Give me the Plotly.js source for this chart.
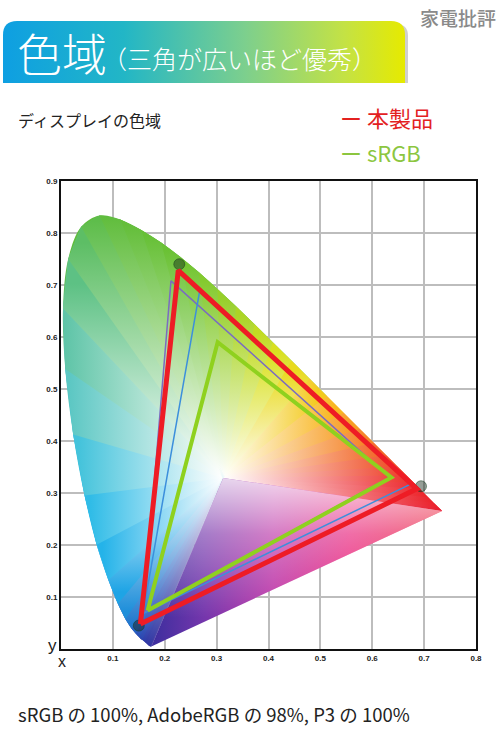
<!DOCTYPE html>
<html>
<head>
<meta charset="utf-8">
<script src="https://cdn.plot.ly/plotly-3.0.1.min.js"></script>
<style>
  html, body { margin: 0; padding: 0; background: #fff; }
  #chart { width: 500px; height: 732px; }
</style>
</head>
<body>
<div id="chart"></div>
<script>
// CIE 1931 spectral locus (wavelength nm, x, y)
const wavelengths = [380, 390, 400, 410, 420, 430, 440, 445, 450, 455, 460, 465, 470, 475, 480, 485, 490, 495,
  500, 505, 510, 515, 520, 525, 530, 535, 540, 545, 550, 555, 560, 565, 570, 575, 580, 585, 590, 595,
  600, 605, 610, 615, 620, 630, 640, 650, 660, 680, 700];
const locusX = [0.1741, 0.1738, 0.1733, 0.1726, 0.1714, 0.1689, 0.1644, 0.1611, 0.1566, 0.1510, 0.1440, 0.1355, 0.1241, 0.1096, 0.0913, 0.0687, 0.0454, 0.0235,
  0.0082, 0.0039, 0.0139, 0.0389, 0.0743, 0.1142, 0.1547, 0.1929, 0.2296, 0.2658, 0.3016, 0.3373, 0.3731, 0.4087, 0.4441, 0.4788, 0.5125, 0.5448, 0.5752, 0.6029,
  0.6270, 0.6482, 0.6658, 0.6801, 0.6915, 0.7079, 0.7190, 0.7260, 0.7300, 0.7334, 0.7347];
const locusY = [0.0050, 0.0049, 0.0048, 0.0048, 0.0051, 0.0069, 0.0109, 0.0138, 0.0177, 0.0227, 0.0297, 0.0399, 0.0578, 0.0868, 0.1327, 0.2007, 0.2950, 0.4127,
  0.5384, 0.6548, 0.7502, 0.8120, 0.8338, 0.8262, 0.8059, 0.7816, 0.7543, 0.7243, 0.6923, 0.6589, 0.6245, 0.5896, 0.5547, 0.5202, 0.4866, 0.4544, 0.4242, 0.3965,
  0.3725, 0.3514, 0.3340, 0.3197, 0.3083, 0.2920, 0.2809, 0.2740, 0.2700, 0.2666, 0.2653];
const whitePoint = [0.3127, 0.3290];

// 三角形 (読み取り値)
const productX = [0.153, 0.226, 0.686, 0.153];
const productY = [0.048, 0.728, 0.308, 0.048];
const srgbX = [0.167, 0.302, 0.637, 0.167];
const srgbY = [0.074, 0.590, 0.330, 0.074];
const adobeX = [0.159, 0.212, 0.633, 0.159];
const adobeY = [0.070, 0.708, 0.330, 0.070];
const p3X = [0.158, 0.267, 0.676, 0.158];
const p3Y = [0.068, 0.687, 0.318, 0.068];
const primaryX = [0.150, 0.228, 0.694];
const primaryY = [0.045, 0.740, 0.313];

const xTicks = [0.1, 0.2, 0.3, 0.4, 0.5, 0.6, 0.7, 0.8];
const xTickText = ['0.1', '0.2', '0.3', '0.4', '0.5', '0.6', '0.7', '0.8'];
const yTicks = [0.1, 0.2, 0.3, 0.4, 0.5, 0.6, 0.7, 0.8, 0.9];
const yTickText = ['0.1', '0.2', '0.3', '0.4', '0.5', '0.6', '0.7', '0.8', '0.9'];

// 波長ごとの縁の色 (見た目用)
const edgeStops = [
  [380, '#3a2c98'], [445, '#2f3aa6'], [460, '#2756bc'], [470, '#1f84d4'], [480, '#1eaeea'],
  [490, '#36c0e6'], [497, '#5cc7c6'], [503, '#5ec4a4'], [510, '#5cbf72'], [520, '#5fbc3e'],
  [540, '#6cc232'], [550, '#8ccc2c'], [560, '#b6d824'], [570, '#e4e21e'], [580, '#f8c21e'],
  [590, '#f69226'], [600, '#f05a2a'], [615, '#ec2a2e'], [700, '#e8142c']
];

function hexToRgb(h) {
  return [parseInt(h.slice(1, 3), 16), parseInt(h.slice(3, 5), 16), parseInt(h.slice(5, 7), 16)];
}
function rgbStr(c) {
  return 'rgb(' + c.map(v => Math.round(v)).join(',') + ')';
}
function edgeColor(wl) {
  for (let i = 0; i < edgeStops.length - 1; i++) {
    const a = edgeStops[i], b = edgeStops[i + 1];
    if (wl >= a[0] && wl <= b[0]) {
      const t = (wl - a[0]) / (b[0] - a[0]);
      const ca = hexToRgb(a[1]), cb = hexToRgb(b[1]);
      return ca.map((v, k) => v + (cb[k] - v) * t);
    }
  }
  return hexToRgb(edgeStops[edgeStops.length - 1][1]);
}
function mixWhite(c, t) {
  return c.map(v => v + (255 - v) * t);
}

const traces = [];
const last = wavelengths.length - 1;

// 下地: 曲がった部分だけなめらかに (450〜580nm)
const i450 = wavelengths.indexOf(450), i580 = wavelengths.indexOf(580);
traces.push({
  x: [whitePoint[0]].concat(locusX.slice(i450, i580 + 1)),
  y: [whitePoint[1]].concat(locusY.slice(i450, i580 + 1)),
  type: 'scatter', mode: 'lines', fill: 'toself', hoverinfo: 'skip', showlegend: false,
  line: { width: 0, shape: 'spline', smoothing: 1 },
  fillgradient: {
    type: 'vertical', start: 0, stop: 0.84,
    colorscale: [[0, '#3a2c98'], [0.05, '#2a4cb4'], [0.16, '#1eaeea'], [0.35, '#36c0e6'],
      [0.5, '#5cc7c6'], [0.65, '#5ec4a4'], [0.78, '#5cbf72'], [0.9, '#5fbc3e'], [1, '#5fbc3e']]
  }
});

// 色度図の扇形 (白色点から縁へ)
for (let i = 0; i < last; i++) {
  const j = Math.min(i + 2, last);
  const xs = [whitePoint[0]], ys = [whitePoint[1]];
  for (let k = i; k <= j; k++) { xs.push(locusX[k]); ys.push(locusY[k]); }
  xs.push(whitePoint[0]); ys.push(whitePoint[1]);
  const mx = (locusX[i] + locusX[i + 1]) / 2;
  const my = (locusY[i] + locusY[i + 1]) / 2;
  const c = edgeColor((wavelengths[i] + wavelengths[i + 1]) / 2);
  const horiz = Math.abs(mx - whitePoint[0]) > Math.abs(my - whitePoint[1]);
  traces.push({
    x: xs, y: ys, type: 'scatter', mode: 'none', fill: 'toself',
    hoverinfo: 'skip', showlegend: false,
    fillgradient: {
      type: horiz ? 'horizontal' : 'vertical',
      start: horiz ? whitePoint[0] : whitePoint[1],
      stop: horiz ? mx : my,
      colorscale: [[0, '#ffffff'], [0.45, rgbStr(mixWhite(c, 0.55))], [1, rgbStr(c)]]
    }
  });
}

// 紫の線側
const purpleX = [whitePoint[0], locusX[last], locusX[0], whitePoint[0]];
const purpleY = [whitePoint[1], locusY[last], locusY[0], whitePoint[1]];
traces.push({
  x: purpleX, y: purpleY, type: 'scatter', mode: 'none', fill: 'toself',
  hoverinfo: 'skip', showlegend: false,
  fillgradient: {
    type: 'horizontal', start: locusX[0], stop: locusX[last],
    colorscale: [[0, '#3c2e9e'], [0.18, '#7436ac'], [0.42, '#bd36a8'], [0.68, '#e8207a'], [1, '#ea1430']]
  }
});
traces.push({
  x: purpleX, y: purpleY, type: 'scatter', mode: 'none', fill: 'toself',
  hoverinfo: 'skip', showlegend: false,
  fillgradient: {
    type: 'vertical', start: whitePoint[1], stop: 0.06,
    colorscale: [[0, 'rgba(255,255,255,0.8)'], [0.4, 'rgba(255,255,255,0.35)'], [1, 'rgba(255,255,255,0)']]
  }
});

// 各色域
traces.push({ x: adobeX, y: adobeY, type: 'scatter', mode: 'lines', hoverinfo: 'skip', showlegend: false,
  line: { color: '#7b6cc0', width: 1.5 } });
traces.push({ x: p3X, y: p3Y, type: 'scatter', mode: 'lines', hoverinfo: 'skip', showlegend: false,
  line: { color: '#3c8fdc', width: 1.5 } });
traces.push({ x: srgbX, y: srgbY, type: 'scatter', mode: 'lines', hoverinfo: 'skip', showlegend: false,
  line: { color: '#8fd11e', width: 4 } });
traces.push({ x: primaryX, y: primaryY, type: 'scatter', mode: 'markers', hoverinfo: 'skip', showlegend: false,
  marker: { size: 11, color: 'rgba(20,40,25,0.45)', line: { width: 1, color: 'rgba(20,60,30,0.5)' } } });
traces.push({ x: productX, y: productY, type: 'scatter', mode: 'lines', hoverinfo: 'skip', showlegend: false,
  line: { color: '#ee1c25', width: 5 } });

// ピクセル位置 -> paper 座標
const plotL = 61, plotR = 476, plotT = 181, plotB = 649;
function px(x, y) {
  return { x: (x - plotL) / (plotR - plotL), y: (plotB - y) / (plotB - plotT) };
}

const jp = "'Noto Sans CJK JP', 'Noto Sans', sans-serif";

const bannerSvg = "<svg xmlns='http://www.w3.org/2000/svg' width='406' height='62' viewBox='0 0 406 62'>" +
  "<defs><linearGradient id='g' x1='0' x2='1' y1='0' y2='0'>" +
  "<stop offset='0' stop-color='#0e9fe2'/><stop offset='0.3' stop-color='#22b6c6'/>" +
  "<stop offset='0.6' stop-color='#7ccf8e'/><stop offset='0.85' stop-color='#c4e244'/>" +
  "<stop offset='1' stop-color='#e6ea00'/></linearGradient></defs>" +
  "<path d='M4 62 V14 Q4 3 15 3 H393 Q405 3 405 15 V62 Z' fill='#cfcfcf'/>" +
  "<path d='M0 62 V14 Q0 0 14 0 H388 Q402 0 402 14 V62 Z' fill='url(#g)'/></svg>";

const bPos = px(3, 21);
const tickFont = { family: 'Liberation Sans, Arial, sans-serif', size: 8, color: '#222', weight: 'bold' };
const layout = {
  width: 500, height: 732,
  margin: { l: plotL, r: 500 - plotR, t: plotT, b: 732 - plotB, pad: 0 },
  paper_bgcolor: '#ffffff', plot_bgcolor: '#ffffff',
  showlegend: false,
  xaxis: {
    range: [0, 0.8], tickvals: xTicks, ticktext: xTickText,
    showgrid: true, gridcolor: '#bdbdbd', gridwidth: 2, zeroline: false,
    showline: true, mirror: true, linecolor: '#111', linewidth: 2, ticks: '',
    tickfont: tickFont, fixedrange: true
  },
  yaxis: {
    range: [0, 0.9], tickvals: yTicks, ticktext: yTickText,
    showgrid: true, gridcolor: '#bdbdbd', gridwidth: 2, zeroline: false,
    showline: true, mirror: true, linecolor: '#111', linewidth: 2, ticks: '',
    tickfont: tickFont, fixedrange: true
  },
  images: [{
    source: 'data:image/svg+xml;charset=utf-8,' + encodeURIComponent(bannerSvg),
    xref: 'paper', yref: 'paper', x: bPos.x, y: bPos.y,
    sizex: 406 / (plotR - plotL), sizey: 62 / (plotB - plotT),
    xanchor: 'left', yanchor: 'top', sizing: 'stretch', layer: 'above'
  }],
  annotations: [
    { text: '色域', ...px(15, 52), font: { family: jp, size: 45, color: '#ffffff', weight: 300 } },
    { text: '（三角が広いほど優秀）', ...px(100, 58), font: { family: jp, size: 25, color: '#ffffff', weight: 300 } },
    { text: '家電批評', ...px(418, 18), font: { family: jp, size: 19, color: '#8a8a8a', weight: 500 } },
    { text: 'ディスプレイの色域', ...px(16, 120), font: { family: jp, size: 16, color: '#222' } },
    { text: 'ー 本製品', ...px(338, 117), font: { family: jp, size: 22, color: '#e3211f' } },
    { text: 'ー sRGB', ...px(338, 152), font: { family: jp, size: 22, color: '#8cc63f' } },
    { text: 'y', ...px(46, 645), font: { family: 'Liberation Sans, Arial, sans-serif', size: 17, color: '#222' } },
    { text: 'x', ...px(56, 661), font: { family: 'Liberation Sans, Arial, sans-serif', size: 16, color: '#222' } },
    { text: 'sRGB の 100%, AdobeRGB の 98%, P3 の 100%', ...px(16, 714), font: { family: jp, size: 18.5, color: '#222' } }
  ].map(a => Object.assign({ xref: 'paper', yref: 'paper', xanchor: 'left', yanchor: 'middle', showarrow: false }, a))
};

Plotly.newPlot('chart', traces, layout, { displayModeBar: false, staticPlot: true });
</script>
</body>
</html>
